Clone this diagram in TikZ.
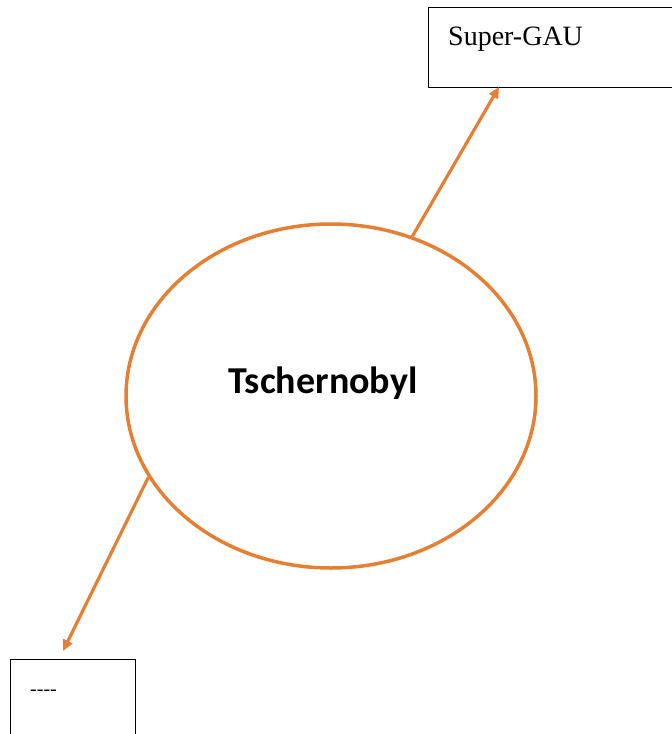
\documentclass[tikz,border=0pt]{standalone}
\usepackage{fontspec}
\setmainfont{Liberation Serif}
\newfontfamily\carlito{Carlito}
\usetikzlibrary{shapes.geometric,arrows.meta}
\definecolor{orng}{HTML}{E47F34}
\begin{document}
\begin{tikzpicture}[x=1pt,y=1pt,
  boxstyle/.style={draw=black,line width=1.4pt,rectangle,anchor=north west,inner sep=0pt},
  ellstyle/.style={draw=orng,line width=3.5pt,ellipse,inner sep=0pt,minimum width=410pt,minimum height=344pt},
  conn/.style={draw=orng,line width=3.2pt,-{Triangle[length=11pt,width=10pt]}},
  lbl/.style={anchor=base west,inner sep=0pt}]
\useasboundingbox (0,0) rectangle (672,-734);
\node[ellstyle] (e) at (331,-396) {};
\node[inner sep=0pt] (et) at (323,-383) {\carlito\bfseries\fontsize{38}{44}\selectfont Tschernobyl};
\node[boxstyle,minimum width=260pt,minimum height=80pt] (gau) at (428,-7) {};
\node[lbl] (gaut) at (448,-45) {\fontsize{28}{32}\selectfont Super-GAU};
\node[boxstyle,minimum width=125pt,minimum height=90pt] (dots) at (10,-659) {};
\node[lbl] (dotst) at (30,-695) {\fontsize{20}{24}\selectfont -{}-{}-{}-};
\coordinate (t1) at (499,-87);
\coordinate (t2) at (63,-651);
\draw[conn] (e.63) -- (t1);
\draw[conn] (e.204) -- (t2);
\end{tikzpicture}
\end{document}
